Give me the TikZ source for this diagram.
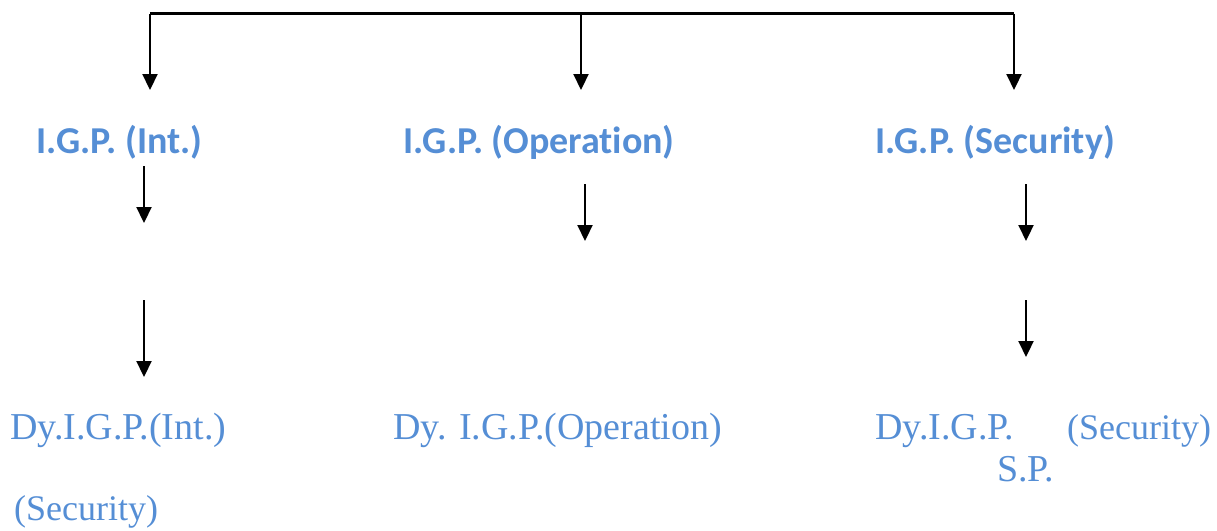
\documentclass[tikz,border=0pt]{standalone}
\usepackage{fontspec}
\setmainfont{Liberation Serif}
\newfontfamily\headfont[Ligatures=NoCommon]{Carlito}
\usetikzlibrary{arrows.meta}
\definecolor{igpblue}{RGB}{85,142,213}
\tikzset{
  head/.style={font=\headfont\bfseries\fontsize{38}{42}\selectfont, text=igpblue, inner sep=0pt, anchor=base},
  sub/.style={font=\fontsize{38}{42}\selectfont, text=igpblue, inner sep=0pt, anchor=base west},
  subsec/.style={sub, font=\fontsize{36}{40}\selectfont},
  conn/.style={line width=2.2pt, -{Triangle[width=15pt,length=16pt]}},
  bar/.style={line width=2.2pt}
}
\begin{document}
\begin{tikzpicture}[x=1pt,y=-1pt]
\useasboundingbox (0,0) rectangle (1217,530);
% headings
\node[head] (h1) at (119.5,153) {I.G.P. (Int.)};
\node[head] (h2) at (539,153) {I.G.P. (Operation)};
\node[head] (h3) at (995,153) {I.G.P. (Security)};
% bottom texts
\node[sub] (d1) at (10,439) {Dy.I.G.P.(Int.)};
\node[sub] (d2) at (393,439) {Dy. I.G.P.(Operation)};
\node[sub] (d3) at (875,439) {Dy.I.G.P.};
\node[subsec] (d3b) at (1067,439) {(Security)};
\node[sub] (sp) at (997,481) {S.P.};
\node[subsec] (sec) at (14,520) {(Security)};
% top bracket
\coordinate (tl) at (150,13.5);
\coordinate (tm) at (581,13.5);
\coordinate (tr) at (1014,13.5);
\coordinate (e1) at (150,90);
\coordinate (e2) at (581,90);
\coordinate (e3) at (1014,90);
\draw[bar] (tl) -- (tr);
\draw[conn] (tl) -- (e1);
\draw[conn] (tm) -- (e2);
\draw[conn] (tr) -- (e3);
% middle arrows
\coordinate (a1s) at (144,166); \coordinate (a1e) at (144,223);
\coordinate (a2s) at (585,184); \coordinate (a2e) at (585,241);
\coordinate (a3s) at (1026,184); \coordinate (a3e) at (1026,241);
\draw[conn] (a1s) -- (a1e);
\draw[conn] (a2s) -- (a2e);
\draw[conn] (a3s) -- (a3e);
% lower arrows
\coordinate (b1s) at (144,300); \coordinate (b1e) at (144,377);
\coordinate (b3s) at (1026,300); \coordinate (b3e) at (1026,357);
\draw[conn] (b1s) -- (b1e);
\draw[conn] (b3s) -- (b3e);
\end{tikzpicture}
\end{document}
